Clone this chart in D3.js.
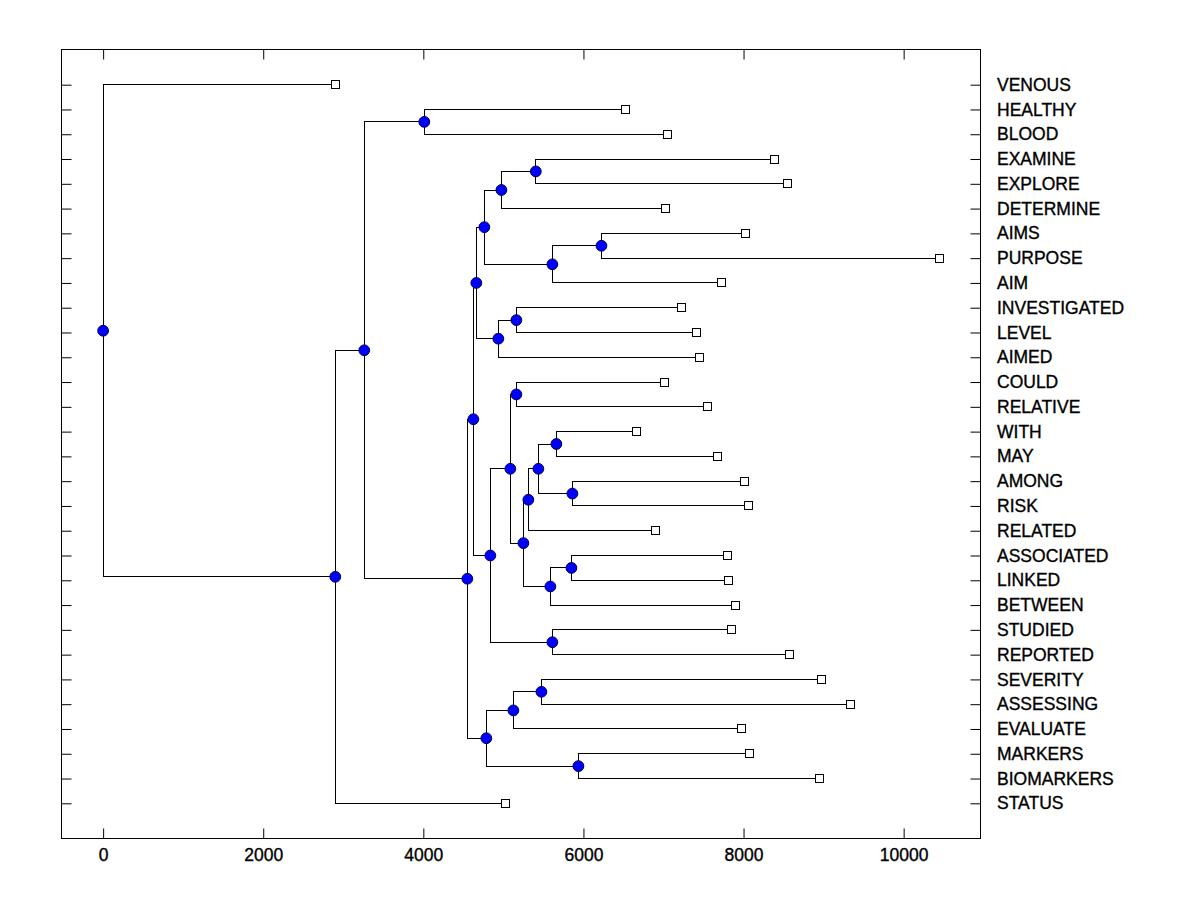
<!DOCTYPE html>
<html>
<head>
<meta charset="utf-8">
<script src="https://cdn.jsdelivr.net/npm/d3@7/dist/d3.min.js"></script>
<style>
  html, body { margin: 0; padding: 0; background: #ffffff; }
  svg { display: block; }
  text { font-family: "Liberation Sans", Arial, sans-serif; fill: #000; }
</style>
</head>
<body>
<svg id="chart" width="1200" height="900"></svg>
<script>
// ---- Data ----
const leafNames = ["VENOUS","HEALTHY","BLOOD","EXAMINE","EXPLORE","DETERMINE","AIMS","PURPOSE","AIM",
  "INVESTIGATED","LEVEL","AIMED","COULD","RELATIVE","WITH","MAY","AMONG","RISK","RELATED",
  "ASSOCIATED","LINKED","BETWEEN","STUDIED","REPORTED","SEVERITY","ASSESSING","EVALUATE",
  "MARKERS","BIOMARKERS","STATUS"];
const leafValues = [2900,6525,7050,8387,8550,7025,8025,10450,7725,
  7225,7412,7450,7012,7550,6662,7675,8012,8062,6900,
  7800,7812,7900,7850,8575,8975,9337,7975,
  8075,8950,5025];

// internal nodes: id, height, upper child, lower child
const nodeIds     = ["root","nA","nB","nC","nD","nE","nG","nI","nK","nM","nL","nN","nJ","nO",
  "nH","nP","nR","nS","nT","nV","nW","nX","nU","nY","nQ","nF","nZ","nAB","nAA"];
const nodeHeights = [0,2900,3262,4012,4550,4625,4662,4762,4975,5405,5612,6225,4937,5162,
  4837,5087,5162,5250,5312,5437,5662,5862,5587,5850,5612,4787,5125,5475,5937];
const nodeUpper   = ["VENOUS","nB","nC","HEALTHY","nE","nG","nI","nK","nM","EXAMINE","nN","AIMS","nO","INVESTIGATED",
  "nP","nR","COULD","nT","nV","nW","WITH","AMONG","nY","ASSOCIATED","STUDIED","nZ","nAB","SEVERITY","MARKERS"];
const nodeLower   = ["nA","STATUS","nD","BLOOD","nF","nH","nJ","nL","DETERMINE","EXPLORE","AIM","PURPOSE","AIMED","LEVEL",
  "nQ","nS","RELATIVE","nU","RELATED","nX","MAY","RISK","BETWEEN","LINKED","REPORTED","nAA","EVALUATE","ASSESSING","BIOMARKERS"];

const xTicks = [0,2000,4000,6000,8000,10000];

// ---- Layout ----
const svg = d3.select("#chart");
const L = 61.5, R = 980.5, T = 49.5, B = 838.5;

const x = d3.scaleLinear().domain([-520, 10960]).range([L, R]);
const y = d3.scaleLinear().domain([-1.42, leafNames.length - 1 + 1.42]).range([T, B]);

// build lookup
const info = {};
leafNames.forEach((n, i) => { info[n] = { leaf: true, h: leafValues[i], idx: i }; });
nodeIds.forEach((id, i) => { info[id] = { leaf: false, h: nodeHeights[i], up: nodeUpper[i], lo: nodeLower[i] }; });

function yPos(id) {
  const d = info[id];
  if (d.y !== undefined) return d.y;
  if (d.leaf) d.y = y(d.idx);
  else d.y = (yPos(d.up) + yPos(d.lo)) / 2;
  return d.y;
}
nodeIds.forEach(yPos);

// frame
svg.append("rect").attr("x", L).attr("y", T).attr("width", R - L).attr("height", B - T)
  .attr("fill", "none").attr("stroke", "#000").attr("stroke-width", 1);

// axes
const fontSize = "17.5px";
function styleText(sel) {
  sel.style("font-size", fontSize)
     .style("font-family", "Liberation Sans, Arial, sans-serif")
     .attr("fill", "#000")
     .attr("stroke", "#000").attr("stroke-width", 0.35);
}
const gB = svg.append("g").attr("transform", `translate(0,${B})`)
  .call(d3.axisBottom(x).tickValues(xTicks).tickFormat(d3.format("d")).tickSizeInner(-10).tickSizeOuter(0).tickPadding(10));
gB.select(".domain").remove();
gB.selectAll("text").call(styleText);

const gT = svg.append("g").attr("transform", `translate(0,${T})`)
  .call(d3.axisTop(x).tickValues(xTicks).tickFormat("").tickSizeInner(-10).tickSizeOuter(0));
gT.select(".domain").remove();

const rowIdx = d3.range(leafNames.length);
const gL = svg.append("g").attr("transform", `translate(${L},0)`)
  .call(d3.axisLeft(y).tickValues(rowIdx).tickFormat("").tickSizeInner(-10).tickSizeOuter(0));
gL.select(".domain").remove();

const gR = svg.append("g").attr("transform", `translate(${R},0)`)
  .call(d3.axisRight(y).tickValues(rowIdx).tickFormat(i => leafNames[i]).tickSizeInner(-10).tickSizeOuter(0).tickPadding(16.5));
gR.select(".domain").remove();
gR.selectAll("text").call(styleText);

svg.selectAll(".tick line").attr("stroke", "#000");

// tree lines
const lines = svg.append("g").attr("stroke", "#000").attr("stroke-width", 1).attr("fill", "none")
  .attr("shape-rendering", "crispEdges");
nodeIds.forEach(id => {
  const d = info[id];
  const nx = x(d.h);
  const u = info[d.up], lo = info[d.lo];
  lines.append("path").attr("d",
    `M${x(u.h)},${u.y}H${nx}V${lo.y}H${x(lo.h)}`);
});

// leaf squares
svg.append("g").selectAll("rect").data(leafNames).join("rect")
  .attr("x", n => x(info[n].h) - 4)
  .attr("y", n => info[n].y - 4)
  .attr("width", 8).attr("height", 8)
  .attr("fill", "#fff").attr("stroke", "#000").attr("stroke-width", 1)
  .attr("shape-rendering", "crispEdges");

// internal node circles
svg.append("g").selectAll("circle").data(nodeIds).join("circle")
  .attr("cx", id => x(info[id].h))
  .attr("cy", id => info[id].y)
  .attr("r", 5.4)
  .attr("fill", "#0000ff").attr("stroke", "#000050").attr("stroke-width", 1);
</script>
</body>
</html>
